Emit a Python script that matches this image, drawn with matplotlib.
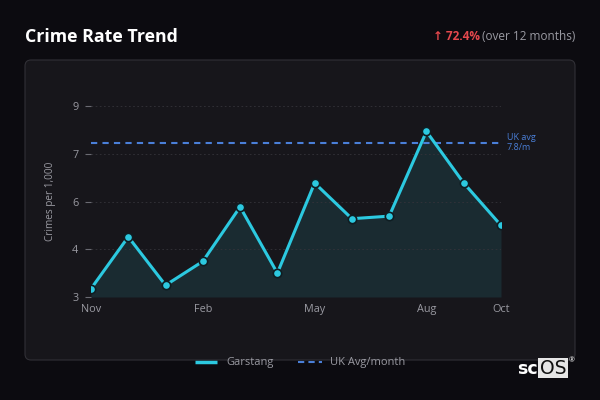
import matplotlib
matplotlib.use("Agg")
from matplotlib import pyplot as plt
from matplotlib.patches import FancyBboxPatch, Rectangle
import numpy as np

plt.rcParams['font.family'] = ['Open Sans', 'DejaVu Sans']

months = ['Nov', 'Dec', 'Jan', 'Feb', 'Mar', 'Apr', 'May', 'Jun', 'Jul', 'Aug', 'Sep', 'Oct']
crime_rate = [3.26, 4.89, 3.37, 4.12, 5.83, 3.75, 6.58, 5.46, 5.54, 8.2, 6.58, 5.25]
uk_avg = 7.85
y_ticks = [3, 4.5, 6, 7.5, 9]
y_tick_labels = ['3', '4', '6', '7', '9']
x_tick_months = ['Nov', 'Feb', 'May', 'Aug', 'Oct']

BG = '#0c0b10'
PANEL = '#17161b'
CYAN = '#2cc9e0'
BLUE = '#4a7fd8'
GREY = '#9a9aa2'

fig = plt.figure(figsize=(6, 4), dpi=100)
fig.patch.set_facecolor(BG)

# background layer in pixel coords
bg = fig.add_axes([0, 0, 1, 1])
bg.set_xlim(0, 600)
bg.set_ylim(400, 0)
bg.axis('off')
bg.add_patch(FancyBboxPatch((25, 60), 550, 300, boxstyle='round,pad=0,rounding_size=6',
                            facecolor=PANEL, edgecolor='#313036', linewidth=0.8))
bg.text(25, 37, 'Crime Rate Trend', color='white', fontsize=12.8, fontweight='bold',
        va='center', ha='left')
t2 = bg.text(575, 37, '(over 12 months)', color=GREY, fontsize=8.5, va='center', ha='right')
fig.canvas.draw()
bb = t2.get_window_extent()
x_left = bb.x0 - 2
bg.text(x_left, 37, '↑ 72.4%', color='#e5484d', fontsize=8.5, fontweight='bold',
        va='center', ha='right')

# legend
bg.plot([195, 217], [362, 362], color=CYAN, linewidth=2.5, solid_capstyle='butt')
bg.text(226, 362, 'Garstang', color=GREY, fontsize=8, va='center')
bg.plot([298, 322], [362, 362], color=BLUE, linewidth=1.5, linestyle=(0, (3, 2)))
bg.text(330, 362, 'UK Avg/month', color=GREY, fontsize=8, va='center')

# logo
bg.add_patch(Rectangle((538, 358), 30, 20, facecolor='#e6e6e6', edgecolor='none'))
bg.text(538, 369, 'sc', color='white', fontsize=12.5, ha='right', va='center',
        family='DejaVu Sans', fontweight='bold')
bg.text(553, 368.5, 'OS', color='#111111', fontsize=13.5, ha='center', va='center',
        family='DejaVu Sans')
bg.text(569, 361, '®', color='white', fontsize=5, ha='left', va='center')

# chart
ax = fig.add_axes([91 / 600, 1 - 297 / 400, 410 / 600, 191 / 400])
ax.set_facecolor('none')
x = np.arange(len(months))
ax.fill_between(x, crime_rate, 3, color='#1a2b31', linewidth=0)
ax.plot(x, crime_rate, color=CYAN, linewidth=2.2, marker='o', markersize=6,
        markerfacecolor=CYAN, markeredgecolor='#0f1d22', markeredgewidth=1.2, zorder=3)
ax.axhline(uk_avg, color=BLUE, linewidth=1.5, linestyle=(0, (3, 2.5)), zorder=2)
ax.text(len(months) - 1 + 0.15, uk_avg, 'UK avg\n7.8/m', color=BLUE, fontsize=6.5,
        va='center', ha='left', linespacing=1.1)

ax.set_xlim(0, len(months) - 1)
ax.set_ylim(3, 9)
ax.set_yticks(y_ticks)
ax.set_yticklabels(y_tick_labels)
ax.set_xticks([months.index(m) for m in x_tick_months])
ax.set_xticklabels(x_tick_months)
for yt in y_ticks[1:]:
    ax.axhline(yt, color='#34333a', linewidth=0.6, linestyle=(0, (2, 3)), zorder=1)
ax.tick_params(axis='y', colors='#6a6a72', labelcolor=GREY, labelsize=7.8, length=4, width=0.8, pad=5)
ax.tick_params(axis='x', length=0, labelcolor=GREY, labelsize=7.8, pad=5)
for s in ax.spines.values():
    s.set_visible(False)
ax.set_ylabel('Crimes per 1,000', color=GREY, fontsize=7.2, labelpad=12)

fig.savefig('out.png', dpi=100, facecolor=BG)
